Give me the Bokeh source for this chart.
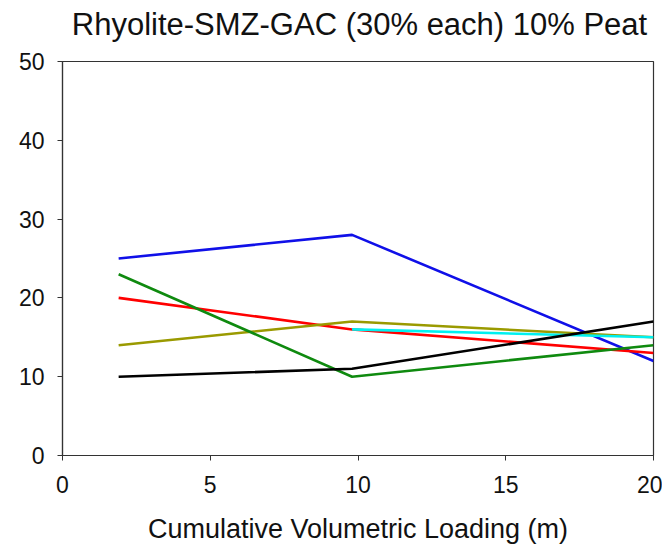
from bokeh.plotting import figure
from bokeh.embed import file_html
from bokeh.resources import INLINE
from bokeh.models import FixedTicker, Range1d
from bokeh.layouts import column
from bokeh.core.properties import value

# Data
x_vals = [1.9, 9.8, 20.0]
blue_vals = [25, 28, 12]
red_vals = [20, 16, 13]
olive_vals = [14, 17, 15]
cyan_x = [9.8, 20.0]
cyan_vals = [16, 15]
green_vals = [23, 10, 14]
black_vals = [10, 11, 17]

x_ticks = [0, 5, 10, 15, 20]
y_ticks = [0, 10, 20, 30, 40, 50]
title_text = "Rhyolite-SMZ-GAC (30% each) 10% Peat"
x_label_text = "Cumulative Volumetric Loading (m)"

FONT = "Liberation Sans"
W = 662
FL, FR = 62, 653      # frame left / right in page pixels
STRIP_H = 46

# --- title strip: frame spans the same horizontal pixels as the plot frame,
#     ranges set so that 1 data unit = 1 pixel ---
t = figure(width=W, height=STRIP_H, output_backend="svg", toolbar_location=None,
           title=None, x_range=Range1d(FL, FR), y_range=Range1d(0, STRIP_H),
           x_axis_location=None, y_axis_location=None)
t.min_border_left = FL
t.min_border_right = W - FR
t.min_border_top = 0
t.min_border_bottom = 0
t.xgrid.visible = False
t.ygrid.visible = False
t.outline_line_color = None
t.border_fill_color = "white"
t.text(x=[359], y=[STRIP_H - 24], text=[title_text], text_align="center",
       text_baseline="alphabetic", text_font=value(FONT),
       text_font_size="31px", text_color="#111111")

# --- main plot ---
p = figure(width=W, height=550 - STRIP_H, output_backend="svg", toolbar_location=None,
           x_range=Range1d(0, 20), y_range=Range1d(0, 50))
p.min_border_left = FL
p.min_border_right = W - FR
p.min_border_top = 61 - STRIP_H
p.min_border_bottom = 95

p.xgrid.visible = False
p.ygrid.visible = False
p.outline_line_color = "#333333"
p.outline_line_width = 1.2
p.background_fill_color = "white"
p.border_fill_color = "white"

for ax in (p.xaxis[0], p.yaxis[0]):
    ax.axis_line_color = "#333333"
    ax.axis_line_width = 1.2
    ax.major_tick_line_color = "#333333"
    ax.major_tick_out = 5
    ax.major_tick_in = 0
    ax.minor_tick_line_color = None
    ax.major_label_text_font = FONT
    ax.major_label_text_font_size = "23px"
    ax.major_label_text_color = "#111111"

p.xaxis.ticker = FixedTicker(ticks=x_ticks)
p.yaxis.ticker = FixedTicker(ticks=y_ticks)
p.xaxis.major_label_standoff = 15
p.yaxis.major_label_standoff = 13
p.xaxis.axis_label = x_label_text
p.xaxis.axis_label_text_font = FONT
p.xaxis.axis_label_text_font_size = "27px"
p.xaxis.axis_label_text_font_style = "normal"
p.xaxis.axis_label_text_color = "#111111"
p.xaxis.axis_label_standoff = 18

lw = 2.6
p.line(x_vals, blue_vals, line_color="#1010e8", line_width=lw)
p.line(x_vals, red_vals, line_color="#ff0000", line_width=lw)
p.line(x_vals, olive_vals, line_color="#9a9a00", line_width=lw)
p.line(cyan_x, cyan_vals, line_color="#00f0f0", line_width=lw)
p.line(x_vals, green_vals, line_color="#0f8a0f", line_width=lw)
p.line(x_vals, black_vals, line_color="#000000", line_width=lw)

layout = column(t, p, spacing=0)
open("out.html", "w").write(file_html(layout, INLINE))
